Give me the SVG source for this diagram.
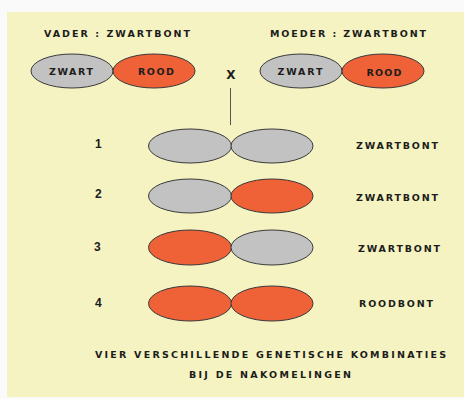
<svg xmlns="http://www.w3.org/2000/svg" width="464" height="399" viewBox="0 0 464 399">
<style>
text{font-family:"DejaVu Sans","Liberation Sans",sans-serif;font-weight:bold;fill:#1c1c1c;}
.lbl{font-size:9.5px;}
.in{font-size:9.5px;text-anchor:middle;}
.num{font-size:12px;font-family:"Liberation Sans",sans-serif;}
.g{fill:#c2c2c2;stroke:#3a3a3a;stroke-width:1;}
.r{fill:#ef6238;stroke:#3a3a3a;stroke-width:1;}
</style>
<rect x="0" y="0" width="464" height="399" fill="#fafafa"/>
<rect x="7" y="12" width="457" height="385" fill="#f5f3c2"/>
<g id="vader">
<text class="lbl" x="44" y="37" textLength="146" lengthAdjust="spacing">VADER : ZWARTBONT</text>
<ellipse class="g" cx="72" cy="71" rx="41" ry="17"/>
<ellipse class="r" cx="154" cy="71" rx="41" ry="17"/>
<text class="in" x="71" y="75" textLength="44" lengthAdjust="spacing">ZWART</text>
<text class="in" x="156" y="75" textLength="36" lengthAdjust="spacing">ROOD</text>
</g>
<g id="kruising">
<text x="231" y="79" style="font-size:12px;text-anchor:middle;">X</text>
</g>
<g id="moeder">
<text class="lbl" x="270" y="37" textLength="156" lengthAdjust="spacing">MOEDER : ZWARTBONT</text>
<ellipse class="g" cx="301" cy="71" rx="41" ry="17"/>
<ellipse class="r" cx="383" cy="71" rx="41" ry="17"/>
<text class="in" x="300" y="75" textLength="45" lengthAdjust="spacing">ZWART</text>
<text class="in" x="384" y="76" textLength="35" lengthAdjust="spacing">ROOD</text>
</g>
<g id="connectors">
<line x1="230.5" y1="88" x2="230.5" y2="125" stroke="#555" stroke-width="1"/>
</g>
<g id="rij1">
<text class="num" x="95" y="148">1</text>
<ellipse class="g" cx="190" cy="146" rx="41.5" ry="17"/>
<ellipse class="g" cx="272" cy="146" rx="41" ry="17"/>
<text class="lbl" x="356" y="149" textLength="82" lengthAdjust="spacing">ZWARTBONT</text>
</g>
<g id="rij2">
<text class="num" x="95" y="198">2</text>
<ellipse class="g" cx="190" cy="196" rx="41.5" ry="17"/>
<ellipse class="r" cx="272" cy="196" rx="41" ry="17"/>
<text class="lbl" x="356" y="201" textLength="82" lengthAdjust="spacing">ZWARTBONT</text>
</g>
<g id="rij3">
<text class="num" x="94" y="251">3</text>
<ellipse class="r" cx="190" cy="247.5" rx="41.5" ry="17.5"/>
<ellipse class="g" cx="272" cy="247.5" rx="41" ry="17.5"/>
<text class="lbl" x="358" y="252" textLength="82" lengthAdjust="spacing">ZWARTBONT</text>
</g>
<g id="rij4">
<text class="num" x="95" y="307">4</text>
<ellipse class="r" cx="190" cy="303.5" rx="41.5" ry="17.5"/>
<ellipse class="r" cx="272" cy="303.5" rx="41" ry="17.5"/>
<text class="lbl" x="359" y="307" textLength="74" lengthAdjust="spacing">ROODBONT</text>
</g>
<g id="conclusie">
<text class="lbl" x="95" y="358" textLength="351" lengthAdjust="spacing">VIER VERSCHILLENDE GENETISCHE KOMBINATIES</text>
<text class="lbl" x="189" y="378" textLength="162" lengthAdjust="spacing">BIJ DE NAKOMELINGEN</text>
</g>
</svg>
